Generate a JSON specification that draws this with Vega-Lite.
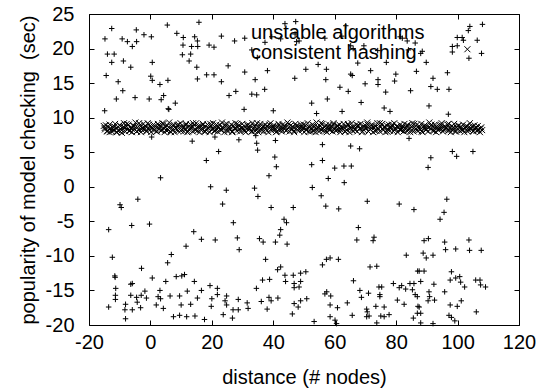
{
"$schema": "https://vega.github.io/schema/vega-lite/v6.json",
"autosize": {"type": "none"},
"width": 430,
"height": 311,
"padding": {"left": 89, "top": 14, "right": 21, "bottom": 64},
"background": "white",
"datasets": {
"plus": [
{"x":-12.6,"y":22.9},{"x":-14.8,"y":21.4},{"x":-4.6,"y":22.7},{"x":-9.2,"y":21.4},{"x":-7.5,"y":21.0},{"x":-5.9,"y":20.3},{"x":-4.5,"y":21.0},{"x":-2.1,"y":22.0},{"x":0.3,"y":21.7},{"x":5.5,"y":23.4},{"x":8.6,"y":22.2},{"x":10.7,"y":21.6},{"x":10.6,"y":20.5},{"x":14.4,"y":21.7},{"x":15.3,"y":21.1},{"x":13.4,"y":20.3},{"x":15.4,"y":20.3},{"x":-14.0,"y":19.2},{"x":-11.8,"y":19.2},{"x":-12.6,"y":18.0},{"x":-8.8,"y":18.2},{"x":-6.4,"y":17.3},{"x":0.6,"y":18.0},{"x":10.4,"y":19.1},{"x":13.1,"y":19.2},{"x":12.6,"y":18.2},{"x":15.1,"y":17.3},{"x":-14.4,"y":16.1},{"x":-10.5,"y":15.2},{"x":0.1,"y":16.0},{"x":0.6,"y":15.4},{"x":3.1,"y":14.8},{"x":5.7,"y":15.4},{"x":15.3,"y":15.6},{"x":-9.0,"y":13.9},{"x":-11.1,"y":12.7},{"x":-5.0,"y":12.9},{"x":-0.4,"y":12.7},{"x":4.3,"y":13.2},{"x":3.5,"y":12.6},{"x":8.1,"y":12.1},{"x":6.0,"y":11.2},{"x":-14.9,"y":11.0},{"x":0.4,"y":7.2},{"x":13.6,"y":6.6},
{"x":15.8,"y":23.8},{"x":23.1,"y":21.8},{"x":27.4,"y":21.1},{"x":30.7,"y":21.5},{"x":19.1,"y":20.5},{"x":20.7,"y":20.2},{"x":33.0,"y":19.8},{"x":34.8,"y":18.7},{"x":37.3,"y":20.9},{"x":39.5,"y":21.7},{"x":42.4,"y":21.4},{"x":43.8,"y":23.6},{"x":47.3,"y":23.9},{"x":47.1,"y":22.1},{"x":48.4,"y":21.1},{"x":25.3,"y":17.5},{"x":18.3,"y":16.2},{"x":20.7,"y":16.2},{"x":30.7,"y":16.6},{"x":38.1,"y":16.8},{"x":34.1,"y":15.5},{"x":23.1,"y":15.2},{"x":47.0,"y":15.7},{"x":50.6,"y":17.0},{"x":25.6,"y":13.2},{"x":27.8,"y":13.8},{"x":33.0,"y":13.4},{"x":34.6,"y":13.3},{"x":37.2,"y":14.1},{"x":30.5,"y":11.2},{"x":40.0,"y":11.0},{"x":21.0,"y":7.2},{"x":28.8,"y":6.8},{"x":34.6,"y":6.3},{"x":34.9,"y":5.3},{"x":40.7,"y":6.7},{"x":22.2,"y":5.1},{"x":18.2,"y":3.8},{"x":40.5,"y":4.3},{"x":41.0,"y":2.9},{"x":34.3,"y":7.4},{"x":5.8,"y":11.3},
{"x":56.8,"y":21.5},{"x":65.2,"y":20.4},{"x":69.5,"y":20.4},{"x":82.0,"y":21.5},{"x":83.6,"y":21.1},{"x":86.2,"y":20.8},{"x":63.6,"y":23.3},{"x":54.6,"y":17.7},{"x":57.3,"y":17.0},{"x":67.5,"y":17.9},{"x":65.2,"y":16.3},{"x":65.7,"y":16.1},{"x":71.7,"y":16.8},{"x":76.8,"y":18.0},{"x":79.9,"y":16.3},{"x":79.5,"y":15.3},{"x":86.6,"y":16.7},{"x":57.1,"y":15.5},{"x":69.9,"y":14.9},{"x":74.1,"y":15.5},{"x":74.1,"y":14.8},{"x":61.7,"y":14.4},{"x":64.4,"y":13.8},{"x":76.6,"y":13.7},{"x":84.7,"y":13.9},{"x":57.6,"y":12.7},{"x":52.5,"y":12.1},{"x":68.6,"y":12.2},{"x":76.1,"y":11.4},{"x":78.0,"y":10.9},{"x":54.1,"y":10.6},{"x":62.4,"y":10.9},{"x":84.2,"y":7.0},{"x":56.0,"y":6.1},{"x":65.2,"y":5.9},{"x":68.1,"y":5.5},{"x":52.5,"y":3.2},{"x":56.0,"y":3.8},{"x":60.0,"y":2.7},{"x":63.0,"y":3.0},{"x":65.4,"y":3.0},{"x":66.0,"y":20.0},{"x":74.0,"y":19.7},{"x":84.0,"y":19.8},{"x":88.0,"y":19.3},{"x":62.3,"y":21.8},{"x":81.3,"y":21.7},{"x":47.6,"y":21.0},
{"x":104.0,"y":23.2},{"x":108.1,"y":23.5},{"x":103.5,"y":22.6},{"x":99.9,"y":21.6},{"x":101.5,"y":21.6},{"x":101.9,"y":21.2},{"x":106.4,"y":21.2},{"x":98.3,"y":20.3},{"x":99.9,"y":20.4},{"x":98.3,"y":19.5},{"x":103.7,"y":18.6},{"x":107.8,"y":19.3},{"x":89.8,"y":18.0},{"x":88.5,"y":19.6},{"x":92.0,"y":15.7},{"x":96.7,"y":16.5},{"x":91.3,"y":14.5},{"x":93.4,"y":14.1},{"x":97.2,"y":14.1},{"x":90.7,"y":11.7},{"x":97.0,"y":10.5},{"x":98.3,"y":5.1},{"x":99.7,"y":4.4},{"x":105.0,"y":5.1},{"x":91.3,"y":4.2},{"x":90.4,"y":2.8},
{"x":3.3,"y":1.3},{"x":-9.9,"y":-2.6},{"x":-9.5,"y":-3.0},{"x":-4.1,"y":-1.8},{"x":-6.1,"y":-5.6},{"x":-0.3,"y":-5.4},{"x":-13.6,"y":-6.2},{"x":14.1,"y":-6.5},{"x":11.6,"y":-8.6},{"x":6.8,"y":-9.8},{"x":5.6,"y":-11.0},{"x":-12.4,"y":-10.2},{"x":-2.9,"y":-11.8},{"x":-11.6,"y":-12.9},{"x":-11.5,"y":-13.1},{"x":0.6,"y":-13.2},{"x":5.0,"y":-13.7},{"x":8.4,"y":-13.0},{"x":10.2,"y":-12.9},{"x":11.1,"y":-12.7},{"x":14.3,"y":-13.7},{"x":-6.4,"y":-14.1},{"x":-5.9,"y":-14.0},{"x":-11.3,"y":-14.7},{"x":-11.4,"y":-15.7},{"x":-11.4,"y":-16.3},{"x":-6.4,"y":-15.7},{"x":-4.5,"y":-16.0},{"x":-3.0,"y":-15.7},{"x":-1.8,"y":-15.1},{"x":-1.3,"y":-16.1},{"x":-4.3,"y":-16.7},{"x":-8.1,"y":-17.0},{"x":-8.3,"y":-17.8},{"x":-5.9,"y":-17.8},{"x":-3.2,"y":-17.5},{"x":-8.1,"y":-19.1},{"x":-13.6,"y":-17.4},{"x":3.1,"y":-15.0},{"x":2.5,"y":-15.9},{"x":3.3,"y":-16.2},{"x":1.9,"y":-17.1},{"x":4.2,"y":-17.6},{"x":6.4,"y":-15.8},{"x":9.5,"y":-15.8},{"x":12.0,"y":-15.1},{"x":15.3,"y":-16.1},{"x":10.0,"y":-17.1},{"x":13.1,"y":-17.0},{"x":7.5,"y":-18.8},{"x":9.5,"y":-18.6},{"x":11.8,"y":-18.8},{"x":14.5,"y":-18.7},
{"x":38.6,"y":1.6},{"x":19.6,"y":0.0},{"x":24.7,"y":-0.5},{"x":33.9,"y":-0.2},{"x":35.0,"y":-1.4},{"x":23.5,"y":-2.5},{"x":39.3,"y":-3.0},{"x":46.5,"y":-3.0},{"x":27.0,"y":-5.2},{"x":43.5,"y":-4.7},{"x":44.3,"y":-5.2},{"x":42.4,"y":-6.2},{"x":42.1,"y":-7.0},{"x":16.6,"y":-7.6},{"x":21.1,"y":-7.7},{"x":28.3,"y":-7.4},{"x":35.5,"y":-7.5},{"x":36.7,"y":-8.0},{"x":40.7,"y":-8.0},{"x":44.5,"y":-8.3},{"x":28.9,"y":-9.1},{"x":37.5,"y":-10.5},{"x":41.4,"y":-12.0},{"x":42.4,"y":-11.6},{"x":36.5,"y":-13.5},{"x":38.8,"y":-13.4},{"x":43.8,"y":-12.8},{"x":46.5,"y":-12.8},{"x":48.9,"y":-12.5},{"x":50.6,"y":-12.3},{"x":44.0,"y":-13.7},{"x":46.8,"y":-14.0},{"x":48.9,"y":-13.7},{"x":46.8,"y":-14.6},{"x":48.4,"y":-14.5},{"x":16.6,"y":-15.0},{"x":19.4,"y":-14.3},{"x":21.8,"y":-14.7},{"x":21.8,"y":-15.6},{"x":34.5,"y":-14.7},{"x":20.0,"y":-16.2},{"x":19.8,"y":-17.3},{"x":24.8,"y":-15.8},{"x":24.3,"y":-16.5},{"x":24.8,"y":-17.1},{"x":28.6,"y":-16.3},{"x":31.5,"y":-16.8},{"x":31.8,"y":-17.6},{"x":36.1,"y":-16.6},{"x":38.6,"y":-16.0},{"x":39.3,"y":-16.5},{"x":41.5,"y":-16.1},{"x":38.0,"y":-17.7},{"x":26.9,"y":-17.8},{"x":28.6,"y":-17.8},{"x":23.7,"y":-18.5},{"x":26.7,"y":-19.0},{"x":17.6,"y":-19.2},{"x":46.8,"y":-16.9},{"x":48.9,"y":-16.5},{"x":50.9,"y":-16.2},{"x":48.1,"y":-17.4},{"x":46.2,"y":-18.4},
{"x":57.9,"y":1.2},{"x":52.7,"y":-0.1},{"x":63.1,"y":0.6},{"x":55.6,"y":-1.3},{"x":57.1,"y":-2.8},{"x":61.3,"y":-3.2},{"x":70.6,"y":-2.1},{"x":81.0,"y":-2.5},{"x":85.8,"y":-3.3},{"x":67.7,"y":-5.9},{"x":67.2,"y":-7.7},{"x":72.8,"y":-7.3},{"x":72.5,"y":-7.8},{"x":57.3,"y":-10.5},{"x":58.5,"y":-10.3},{"x":61.2,"y":-10.5},{"x":56.0,"y":-11.3},{"x":71.5,"y":-11.6},{"x":73.7,"y":-11.5},{"x":83.3,"y":-9.9},{"x":87.0,"y":-12.2},{"x":66.1,"y":-13.6},{"x":68.2,"y":-15.0},{"x":68.7,"y":-16.0},{"x":71.0,"y":-15.4},{"x":74.4,"y":-14.5},{"x":75.3,"y":-14.5},{"x":74.7,"y":-15.6},{"x":74.7,"y":-15.9},{"x":79.1,"y":-14.0},{"x":81.0,"y":-14.6},{"x":81.8,"y":-14.3},{"x":83.1,"y":-14.8},{"x":84.5,"y":-14.0},{"x":85.8,"y":-14.0},{"x":85.3,"y":-14.9},{"x":86.2,"y":-15.6},{"x":86.9,"y":-15.9},{"x":80.4,"y":-16.4},{"x":82.6,"y":-17.0},{"x":87.1,"y":-17.3},{"x":57.4,"y":-15.2},{"x":56.8,"y":-15.5},{"x":58.7,"y":-15.8},{"x":58.5,"y":-17.1},{"x":60.9,"y":-17.5},{"x":64.1,"y":-16.8},{"x":65.7,"y":-18.6},{"x":70.4,"y":-17.7},{"x":70.6,"y":-18.1},{"x":70.4,"y":-18.8},{"x":71.2,"y":-18.7},{"x":73.4,"y":-17.3},{"x":76.1,"y":-17.4},{"x":75.0,"y":-18.7},{"x":76.1,"y":-18.8},{"x":77.7,"y":-18.5},{"x":58.5,"y":-18.8},{"x":60.1,"y":-19.3},{"x":60.6,"y":-19.8},{"x":53.3,"y":-19.5},{"x":73.7,"y":-19.7},{"x":85.6,"y":-19.0},{"x":86.9,"y":-18.3},
{"x":96.5,"y":-1.8},{"x":95.6,"y":-3.7},{"x":94.3,"y":-4.7},{"x":89.1,"y":-7.8},{"x":90.5,"y":-7.5},{"x":95.8,"y":-8.0},{"x":103.7,"y":-7.7},{"x":88.8,"y":-9.6},{"x":89.8,"y":-10.3},{"x":92.0,"y":-9.9},{"x":96.1,"y":-9.1},{"x":99.4,"y":-9.0},{"x":103.9,"y":-9.2},{"x":107.7,"y":-9.2},{"x":87.5,"y":-12.2},{"x":89.1,"y":-12.2},{"x":98.0,"y":-12.3},{"x":88.0,"y":-13.7},{"x":92.3,"y":-14.1},{"x":97.6,"y":-13.5},{"x":99.4,"y":-13.2},{"x":100.7,"y":-13.0},{"x":101.0,"y":-13.8},{"x":102.3,"y":-14.5},{"x":105.9,"y":-13.5},{"x":107.3,"y":-13.5},{"x":107.5,"y":-14.2},{"x":109.1,"y":-14.5},{"x":90.7,"y":-15.2},{"x":90.9,"y":-15.9},{"x":90.4,"y":-16.5},{"x":92.5,"y":-16.4},{"x":95.8,"y":-15.2},{"x":101.2,"y":-16.5},{"x":97.6,"y":-17.1},{"x":99.9,"y":-17.3},{"x":106.1,"y":-18.1},{"x":87.5,"y":-17.4},{"x":88.0,"y":-18.3},{"x":97.2,"y":-18.6},{"x":98.0,"y":-18.9},{"x":99.1,"y":-19.4},{"x":88.0,"y":-19.7},{"x":92.0,"y":-19.8}
],
"cross": [
{"x":-15.2,"y":8.8},{"x":-14.8,"y":8.3},{"x":-14.5,"y":8.9},{"x":-14.1,"y":8.1},{"x":-13.7,"y":8.6},{"x":-13.3,"y":7.9},{"x":-13.0,"y":8.4},{"x":-12.6,"y":8.0},{"x":-12.2,"y":8.7},{"x":-11.9,"y":8.2},{"x":-11.5,"y":9.1},{"x":-11.1,"y":7.9},{"x":-10.8,"y":8.5},{"x":-10.4,"y":8.1},{"x":-10.0,"y":8.9},{"x":-9.7,"y":8.3},{"x":-9.3,"y":7.8},{"x":-8.9,"y":8.6},{"x":-8.6,"y":9.2},{"x":-8.2,"y":8.0},{"x":-7.8,"y":8.7},{"x":-7.5,"y":8.3},{"x":-7.1,"y":9.0},{"x":-6.7,"y":8.1},{"x":-6.4,"y":8.5},{"x":-6.0,"y":7.9},{"x":-5.6,"y":8.8},{"x":-5.3,"y":8.4},{"x":-4.9,"y":9.3},{"x":-4.5,"y":8.0},{"x":-4.2,"y":8.6},{"x":-3.8,"y":8.2},{"x":-3.4,"y":8.9},{"x":-3.1,"y":7.9},{"x":-2.7,"y":8.5},{"x":-2.3,"y":9.1},{"x":-2.0,"y":8.3},{"x":-1.6,"y":8.7},{"x":-1.2,"y":8.0},{"x":-0.9,"y":9.2},{"x":-0.5,"y":8.4},{"x":-0.1,"y":8.8},{"x":0.2,"y":7.9},{"x":0.6,"y":8.6},{"x":1.0,"y":9.0},{"x":1.3,"y":8.2},{"x":1.7,"y":8.7},{"x":2.1,"y":8.0},{"x":2.4,"y":9.1},{"x":2.8,"y":8.4},{"x":3.2,"y":8.8},{"x":3.5,"y":8.1},{"x":3.9,"y":9.2},{"x":4.3,"y":8.5},{"x":4.6,"y":7.9},{"x":5.0,"y":8.6},{"x":5.4,"y":8.9},{"x":5.7,"y":8.2},{"x":6.1,"y":9.3},{"x":6.5,"y":8.0},{"x":6.8,"y":8.7},{"x":7.2,"y":8.3},{"x":7.6,"y":9.0},{"x":7.9,"y":7.9},{"x":8.3,"y":8.5},{"x":8.7,"y":8.9},{"x":9.0,"y":8.1},{"x":9.4,"y":8.6},{"x":9.8,"y":9.2},{"x":10.1,"y":8.3},{"x":10.5,"y":8.8},{"x":10.9,"y":8.0},{"x":11.2,"y":8.4},{"x":11.6,"y":9.1},{"x":12.0,"y":7.9},{"x":12.3,"y":8.7},{"x":12.7,"y":8.2},{"x":13.1,"y":9.0},{"x":13.4,"y":8.5},{"x":13.8,"y":8.0},{"x":14.2,"y":8.9},{"x":14.5,"y":8.3},{"x":14.9,"y":9.2},{"x":15.3,"y":8.1},{"x":15.6,"y":8.6},{"x":16.0,"y":7.9},{"x":16.4,"y":8.8},{"x":16.7,"y":8.4},{"x":17.1,"y":9.1},{"x":17.5,"y":8.0},{"x":17.8,"y":8.7},{"x":18.2,"y":8.2},{"x":18.6,"y":9.0},{"x":18.9,"y":8.5},{"x":19.3,"y":7.9},{"x":19.7,"y":8.8},{"x":20.0,"y":8.3},{"x":20.4,"y":9.2},{"x":20.8,"y":8.1},{"x":21.1,"y":8.6},{"x":21.5,"y":9.0},{"x":21.9,"y":8.0},{"x":22.2,"y":8.5},{"x":22.6,"y":8.9},{"x":23.0,"y":8.2},{"x":23.3,"y":9.3},{"x":23.7,"y":8.4},{"x":24.1,"y":7.9},{"x":24.4,"y":8.7},{"x":24.8,"y":9.1},{"x":25.2,"y":8.0},{"x":25.5,"y":8.6},{"x":25.9,"y":8.3},{"x":26.3,"y":9.0},{"x":26.6,"y":7.9},{"x":27.0,"y":8.8},{"x":27.4,"y":8.4},{"x":27.7,"y":9.2},{"x":28.1,"y":8.1},{"x":28.5,"y":8.6},{"x":28.8,"y":8.9},{"x":29.2,"y":8.0},{"x":29.6,"y":8.5},{"x":29.9,"y":9.1},{"x":30.3,"y":8.2},{"x":30.7,"y":8.7},{"x":31.0,"y":7.9},{"x":31.4,"y":8.4},{"x":31.8,"y":9.0},{"x":32.1,"y":8.3},{"x":32.5,"y":8.8},{"x":32.9,"y":8.0},{"x":33.2,"y":9.2},{"x":33.6,"y":8.5},{"x":34.0,"y":8.1},{"x":34.3,"y":8.9},{"x":34.7,"y":8.3},{"x":35.1,"y":7.9},{"x":35.4,"y":8.6},{"x":35.8,"y":9.1},{"x":36.2,"y":8.2},{"x":36.5,"y":8.7},{"x":36.9,"y":8.0},{"x":37.3,"y":9.0},{"x":37.6,"y":8.4},{"x":38.0,"y":8.8},{"x":38.4,"y":7.9},{"x":38.7,"y":8.5},{"x":39.1,"y":9.2},{"x":39.5,"y":8.1},{"x":39.8,"y":8.6},{"x":40.2,"y":8.9},{"x":40.6,"y":8.3},{"x":40.9,"y":7.9},{"x":41.3,"y":8.7},{"x":41.7,"y":9.1},{"x":42.0,"y":8.2},{"x":42.4,"y":8.5},{"x":42.8,"y":8.0},{"x":43.1,"y":9.0},{"x":43.5,"y":8.4},{"x":43.9,"y":8.8},{"x":44.2,"y":8.1},{"x":44.6,"y":9.3},{"x":45.0,"y":8.6},{"x":45.3,"y":8.0},{"x":45.7,"y":8.9},{"x":46.1,"y":8.3},{"x":46.4,"y":8.7},{"x":46.8,"y":7.9},{"x":47.2,"y":9.1},{"x":47.5,"y":8.4},{"x":47.9,"y":8.8},{"x":48.3,"y":8.1},{"x":48.6,"y":8.6},{"x":49.0,"y":9.0},{"x":49.4,"y":8.2},{"x":49.7,"y":8.5},{"x":50.1,"y":7.9},{"x":50.5,"y":8.9},{"x":50.8,"y":8.3},{"x":51.2,"y":9.2},{"x":51.6,"y":8.0},{"x":51.9,"y":8.6},{"x":52.3,"y":8.4},{"x":52.7,"y":9.0},{"x":53.0,"y":8.1},{"x":53.4,"y":8.7},{"x":53.8,"y":7.9},{"x":54.1,"y":9.3},{"x":54.5,"y":8.5},{"x":54.9,"y":8.0},{"x":55.2,"y":8.8},{"x":55.6,"y":8.3},{"x":56.0,"y":9.1},{"x":56.3,"y":8.1},{"x":56.7,"y":8.6},{"x":57.1,"y":8.9},{"x":57.4,"y":7.9},{"x":57.8,"y":8.4},{"x":58.2,"y":9.0},{"x":58.5,"y":8.2},{"x":58.9,"y":8.7},{"x":59.3,"y":8.0},{"x":59.6,"y":9.2},{"x":60.0,"y":8.5},{"x":60.4,"y":8.1},{"x":60.7,"y":8.8},{"x":61.1,"y":8.3},{"x":61.5,"y":9.0},{"x":61.8,"y":7.9},{"x":62.2,"y":8.6},{"x":62.6,"y":8.4},{"x":62.9,"y":9.1},{"x":63.3,"y":8.0},{"x":63.7,"y":8.7},{"x":64.0,"y":8.2},{"x":64.4,"y":8.9},{"x":64.8,"y":7.9},{"x":65.1,"y":8.5},{"x":65.5,"y":9.2},{"x":65.9,"y":8.1},{"x":66.2,"y":8.6},{"x":66.6,"y":8.3},{"x":67.0,"y":9.0},{"x":67.3,"y":8.0},{"x":67.7,"y":8.8},{"x":68.1,"y":8.4},{"x":68.4,"y":9.1},{"x":68.8,"y":7.9},{"x":69.2,"y":8.6},{"x":69.5,"y":8.2},{"x":69.9,"y":8.9},{"x":70.3,"y":8.5},{"x":70.6,"y":9.3},{"x":71.0,"y":8.0},{"x":71.4,"y":8.7},{"x":71.7,"y":8.3},{"x":72.1,"y":9.0},{"x":72.5,"y":7.9},{"x":72.8,"y":8.5},{"x":73.2,"y":8.8},{"x":73.6,"y":8.1},{"x":73.9,"y":9.2},{"x":74.3,"y":8.4},{"x":74.7,"y":8.0},{"x":75.0,"y":8.7},{"x":75.4,"y":9.1},{"x":75.8,"y":8.2},{"x":76.1,"y":8.6},{"x":76.5,"y":7.9},{"x":76.9,"y":8.9},{"x":77.2,"y":8.3},{"x":77.6,"y":9.0},{"x":78.0,"y":8.1},{"x":78.3,"y":8.5},{"x":78.7,"y":8.8},{"x":79.1,"y":8.0},{"x":79.4,"y":9.2},{"x":79.8,"y":8.4},{"x":80.2,"y":8.7},{"x":80.5,"y":7.9},{"x":80.9,"y":8.6},{"x":81.3,"y":9.0},{"x":81.6,"y":8.2},{"x":82.0,"y":8.8},{"x":82.4,"y":8.0},{"x":82.7,"y":9.1},{"x":83.1,"y":8.5},{"x":83.5,"y":8.1},{"x":83.8,"y":8.9},{"x":84.2,"y":8.3},{"x":84.6,"y":7.9},{"x":84.9,"y":8.7},{"x":85.3,"y":9.2},{"x":85.7,"y":8.0},{"x":86.0,"y":8.6},{"x":86.4,"y":8.4},{"x":86.8,"y":9.0},{"x":87.1,"y":8.1},{"x":87.5,"y":8.8},{"x":87.9,"y":8.3},{"x":88.2,"y":9.1},{"x":88.6,"y":7.9},{"x":89.0,"y":8.5},{"x":89.3,"y":8.9},{"x":89.7,"y":8.2},{"x":90.1,"y":8.7},{"x":90.4,"y":8.0},{"x":90.8,"y":9.3},{"x":91.2,"y":8.4},{"x":91.5,"y":8.8},{"x":91.9,"y":8.1},{"x":92.3,"y":8.6},{"x":92.6,"y":9.0},{"x":93.0,"y":7.9},{"x":93.4,"y":8.5},{"x":93.7,"y":8.2},{"x":94.1,"y":8.9},{"x":94.5,"y":8.4},{"x":94.8,"y":9.2},{"x":95.2,"y":8.0},{"x":95.6,"y":8.7},{"x":95.9,"y":8.3},{"x":96.3,"y":8.6},{"x":96.7,"y":9.0},{"x":97.0,"y":8.1},{"x":97.4,"y":8.5},{"x":97.8,"y":7.9},{"x":98.1,"y":8.8},{"x":98.5,"y":8.3},{"x":98.9,"y":9.1},{"x":99.2,"y":8.0},{"x":99.6,"y":8.6},{"x":100.0,"y":8.4},{"x":100.3,"y":8.9},{"x":100.7,"y":8.1},{"x":101.1,"y":8.7},{"x":101.4,"y":8.2},{"x":101.8,"y":9.0},{"x":102.2,"y":7.9},{"x":102.5,"y":8.5},{"x":102.9,"y":8.8},{"x":103.3,"y":8.0},{"x":103.6,"y":8.6},{"x":104.0,"y":9.2},{"x":104.4,"y":8.3},{"x":104.7,"y":8.7},{"x":105.1,"y":8.0},{"x":105.5,"y":8.9},{"x":105.8,"y":8.4},{"x":106.2,"y":8.1},{"x":106.6,"y":8.8},{"x":106.9,"y":8.3},{"x":107.3,"y":7.9},{"x":107.7,"y":8.6},{"x":108.0,"y":8.2},{"x":103.2,"y":19.9},
{"x":-14.9,"y":8.5},{"x":-14.1,"y":8.0},{"x":-13.3,"y":9.0},{"x":-12.5,"y":8.3},{"x":-11.7,"y":8.7},{"x":-10.9,"y":7.9},{"x":-10.1,"y":8.9},{"x":-9.3,"y":8.2},{"x":-8.5,"y":8.6},{"x":-7.7,"y":9.1},{"x":-6.9,"y":8.1},{"x":-6.1,"y":8.4},{"x":-5.3,"y":8.8},{"x":-4.5,"y":8.0},{"x":-3.7,"y":9.2},{"x":-2.9,"y":8.3},{"x":-2.1,"y":8.6},{"x":-1.3,"y":8.1},{"x":-0.5,"y":9.0},{"x":0.3,"y":8.4},{"x":1.1,"y":8.7},{"x":1.9,"y":8.0},{"x":2.7,"y":8.9},{"x":3.5,"y":8.3},{"x":4.3,"y":9.1},{"x":5.1,"y":8.2},{"x":5.9,"y":8.6},{"x":6.7,"y":7.9},{"x":7.5,"y":8.8},{"x":8.3,"y":8.4},{"x":9.1,"y":9.0},{"x":9.9,"y":8.1},{"x":10.7,"y":8.5},{"x":11.5,"y":8.9},{"x":12.3,"y":8.0},{"x":13.1,"y":8.6},{"x":13.9,"y":9.2},{"x":14.7,"y":8.2},{"x":15.5,"y":8.7},{"x":16.3,"y":8.3},{"x":17.1,"y":8.9},{"x":17.9,"y":8.0},{"x":18.7,"y":8.5},{"x":19.5,"y":9.1},{"x":20.3,"y":8.4},{"x":21.1,"y":8.1},{"x":21.9,"y":8.8},{"x":22.7,"y":8.3},{"x":23.5,"y":8.6},{"x":24.3,"y":9.0},{"x":25.1,"y":8.2},{"x":25.9,"y":8.7},{"x":26.7,"y":8.0},{"x":27.5,"y":8.5},{"x":28.3,"y":9.1},{"x":29.1,"y":8.3},{"x":29.9,"y":8.6},{"x":30.7,"y":8.1},{"x":31.5,"y":8.9},{"x":32.3,"y":8.4},{"x":33.1,"y":8.0},{"x":33.9,"y":8.7},{"x":34.7,"y":9.2},{"x":35.5,"y":8.2},{"x":36.3,"y":8.5},{"x":37.1,"y":8.8},{"x":37.9,"y":8.1},{"x":38.7,"y":9.0},{"x":39.5,"y":8.4},{"x":40.3,"y":8.6},{"x":41.1,"y":8.0},{"x":41.9,"y":8.9},{"x":42.7,"y":8.3},{"x":43.5,"y":8.7},{"x":44.3,"y":8.2},{"x":45.1,"y":9.1},{"x":45.9,"y":8.5},{"x":46.7,"y":8.1},{"x":47.5,"y":8.8},{"x":48.3,"y":8.4},{"x":49.1,"y":8.6},{"x":49.9,"y":9.0},{"x":50.7,"y":8.2},{"x":51.5,"y":8.7},{"x":52.3,"y":8.0},{"x":53.1,"y":8.9},{"x":53.9,"y":8.3},{"x":54.7,"y":8.6},{"x":55.5,"y":9.2},{"x":56.3,"y":8.4},{"x":57.1,"y":8.1},{"x":57.9,"y":8.7},{"x":58.7,"y":8.5},{"x":59.5,"y":9.0},{"x":60.3,"y":8.2},{"x":61.1,"y":8.8},{"x":61.9,"y":8.3},{"x":62.7,"y":8.6},{"x":63.5,"y":8.0},{"x":64.3,"y":9.1},{"x":65.1,"y":8.4},{"x":65.9,"y":8.7},{"x":66.7,"y":8.2},{"x":67.5,"y":8.9},{"x":68.3,"y":8.5},{"x":69.1,"y":8.0},{"x":69.9,"y":8.6},{"x":70.7,"y":9.0},{"x":71.5,"y":8.3},{"x":72.3,"y":8.8},{"x":73.1,"y":8.1},{"x":73.9,"y":8.5},{"x":74.7,"y":9.2},{"x":75.5,"y":8.4},{"x":76.3,"y":8.7},{"x":77.1,"y":8.0},{"x":77.9,"y":8.6},{"x":78.7,"y":9.0},{"x":79.5,"y":8.2},{"x":80.3,"y":8.8},{"x":81.1,"y":8.3},{"x":81.9,"y":8.5},{"x":82.7,"y":8.1},{"x":83.5,"y":8.9},{"x":84.3,"y":8.4},{"x":85.1,"y":8.7},{"x":85.9,"y":9.1},{"x":86.7,"y":8.2},{"x":87.5,"y":8.5},{"x":88.3,"y":8.0},{"x":89.1,"y":8.8},{"x":89.9,"y":8.3},{"x":90.7,"y":8.6},{"x":91.5,"y":9.0},{"x":92.3,"y":8.1},{"x":93.1,"y":8.7},{"x":93.9,"y":8.4},{"x":94.7,"y":8.9},{"x":95.5,"y":8.2},{"x":96.3,"y":8.5},{"x":97.1,"y":9.1},{"x":97.9,"y":8.3},{"x":98.7,"y":8.6},{"x":99.5,"y":8.0},{"x":100.3,"y":8.8},{"x":101.1,"y":8.4},{"x":101.9,"y":8.2},{"x":102.7,"y":8.7},{"x":103.5,"y":8.3},{"x":104.3,"y":8.5},{"x":105.1,"y":8.1},{"x":105.9,"y":8.6},{"x":106.7,"y":8.2},{"x":107.5,"y":8.4}
]
},
"layer": [
{
"data": {"name": "plus"},
"mark": {"type": "point", "filled": false, "color": "black", "strokeWidth": 1, "size": 30, "opacity": 1},
"encoding": {
"x": {"field": "x", "type": "quantitative", "scale": {"domain": [-20, 120], "nice": false, "zero": false},
"axis": {"orient": "bottom", "values": [-20, 0, 20, 40, 60, 80, 100, 120], "labelExpr": "'' + datum.value", "title": "distance (# nodes)", "labelPadding": 12, "titlePadding": 15}},
"y": {"field": "y", "type": "quantitative", "scale": {"domain": [-20, 25], "nice": false, "zero": false},
"axis": {"orient": "left", "values": [-20, -15, -10, -5, 0, 5, 10, 15, 20, 25], "labelExpr": "'' + datum.value", "title": "popularity of model checking \u00a0(sec)", "labelPadding": 20, "titlePadding": 7}},
"shape": {"datum": "unstable algorithms", "type": "nominal",
"scale": {"domain": ["unstable algorithms", "consistent hashing"], "range": ["M-1,0L1,0M0,-1L0,1", "M-1,-1L1,1M-1,1L1,-1"]},
"legend": {"title": null, "orient": "none", "legendX": 142, "legendY": 9, "padding": 0, "symbolOpacity": 0, "symbolSize": 25, "labelOffset": 0, "rowPadding": -6, "labelLimit": 0, "labelFontSize": 20, "labelFont": "Liberation Sans", "labelColor": "black"}}
}
},
{
"data": {"name": "cross"},
"mark": {"type": "point", "filled": false, "color": "black", "strokeWidth": 1, "size": 36, "opacity": 1},
"encoding": {
"x": {"field": "x", "type": "quantitative",
"axis": {"orient": "top", "values": [-20, 0, 20, 40, 60, 80, 100, 120], "labels": false, "title": null}},
"y": {"field": "y", "type": "quantitative",
"axis": {"orient": "right", "values": [-20, -15, -10, -5, 0, 5, 10, 15, 20, 25], "labels": false, "title": null}},
"shape": {"datum": "consistent hashing", "type": "nominal"}
}
}
],
"resolve": {"axis": {"x": "independent", "y": "independent"}},
"config": {
"view": {"stroke": "black", "strokeWidth": 1},
"axis": {"grid": false, "domain": false, "ticks": true, "tickColor": "black", "tickSize": -5, "tickWidth": 1,
"labelFont": "Liberation Sans", "labelFontSize": 20, "labelColor": "black", "labelFlush": false, "labelOverlap": false, "labelBound": false,
"titleFont": "Liberation Sans", "titleFontSize": 20, "titleColor": "black", "titleFontWeight": "normal"}
}
}
